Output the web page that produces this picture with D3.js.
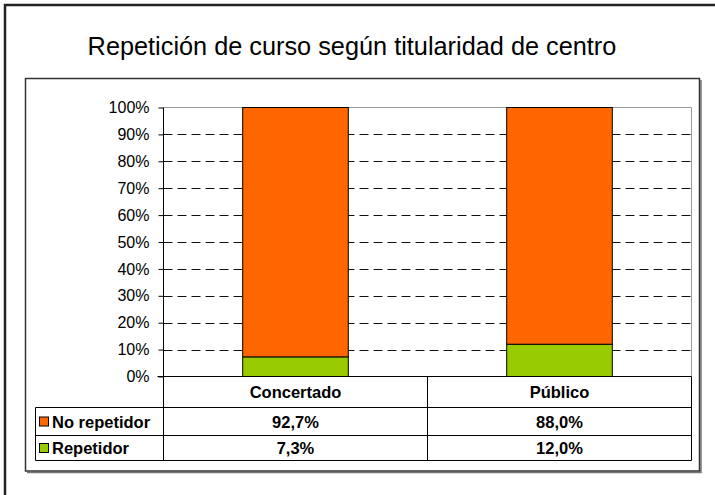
<!DOCTYPE html>
<html>
<head>
<meta charset="utf-8">
<script src="https://cdn.jsdelivr.net/npm/d3@7"></script>
<style>
  body { margin: 0; background: #fff; }
  svg { display: block; font-family: "Liberation Sans", Arial, sans-serif; }
</style>
</head>
<body>
<svg id="chart" width="715" height="495"></svg>
<script>
// Chart data
const categories = ["Concertado", "Público"];
const seriesNames = ["No repetidor", "Repetidor"];
const noRepetidor = [92.7, 88.0];
const repetidor = [7.3, 12.0];
const yTicks = [0, 10, 20, 30, 40, 50, 60, 70, 80, 90, 100];
const titleText = "Repetición de curso según titularidad de centro";

const colors = { "No repetidor": "#ff6600", "Repetidor": "#99cc00" };

// Layout
const plot = { left: 163.5, right: 691.5, top: 107.5, bottom: 376.5 };
const tableLeft = 35.5;
const rowLines = [376.5, 407.5, 435.5, 460.5];

const svg = d3.select("#chart");

// outer frame (runs off the picture on right/bottom)
svg.append("rect")
  .attr("x", 5).attr("y", 5).attr("width", 740).attr("height", 520)
  .attr("fill", "none").attr("stroke", "#222").attr("stroke-width", 2.5);

// title
svg.append("text")
  .attr("x", 352).attr("y", 55)
  .attr("text-anchor", "middle")
  .style("font-size", "25.3px")
  .text(titleText);

// chart area frame + small shadow
svg.append("path")
  .attr("d", "M27,472.5H701V80")
  .attr("fill", "none").attr("stroke", "#777").attr("stroke-width", 1.5);
svg.append("rect")
  .attr("x", 25.5).attr("y", 78.5).attr("width", 674).attr("height", 392.5)
  .attr("fill", "none").attr("stroke", "#333").attr("stroke-width", 1.5);

// Scales
const x = d3.scaleBand().domain(categories).range([plot.left, plot.right]);
const y = d3.scaleLinear().domain([0, 100]).range([plot.bottom, plot.top]);

// dashed gridlines
svg.append("g")
  .selectAll("line")
  .data(yTicks.filter(t => t > 0 && t < 100))
  .enter().append("line")
  .attr("x1", plot.left).attr("x2", plot.right)
  .attr("y1", d => Math.round(y(d)) + 0.5).attr("y2", d => Math.round(y(d)) + 0.5)
  .attr("stroke", "#111").attr("stroke-dasharray", "9,5");

// plot area border top/right (gray)
svg.append("path")
  .attr("d", `M${plot.left},${plot.top}H${plot.right}V${plot.bottom}`)
  .attr("fill", "none").attr("stroke", "#999");

// stacked bars
const stackData = categories.map((c, i) => ({ cat: c, "Repetidor": repetidor[i], "No repetidor": noRepetidor[i] }));
const stack = d3.stack().keys(["Repetidor", "No repetidor"]);
const layers = stack(stackData);
const barW = x.bandwidth() * 0.4;

svg.append("g")
  .selectAll("g")
  .data(layers)
  .enter().append("g")
  .attr("fill", d => colors[d.key])
  .selectAll("rect")
  .data(d => d)
  .enter().append("rect")
  .attr("x", d => x(d.data.cat) + (x.bandwidth() - barW) / 2)
  .attr("y", d => y(d[1]))
  .attr("width", barW)
  .attr("height", d => y(d[0]) - y(d[1]))
  .attr("stroke", "#000").attr("stroke-width", 1);

// y axis
const yAxis = d3.axisLeft(y)
  .tickValues(yTicks)
  .tickSize(5)
  .tickPadding(9)
  .tickFormat(d => d + "%");

const yg = svg.append("g")
  .attr("transform", `translate(${plot.left},0)`)
  .call(yAxis);
yg.select(".domain").remove();
yg.selectAll(".tick line").attr("stroke", "#000");
yg.selectAll(".tick text")
  .attr("fill", "#000")
  .style("font-size", "16px")
  .style("font-family", "'Liberation Sans', Arial, sans-serif");

// axis line, continues down as table column separator
svg.append("line")
  .attr("x1", plot.left).attr("x2", plot.left)
  .attr("y1", plot.top).attr("y2", rowLines[3])
  .attr("stroke", "#000");

// data table lines
svg.append("line")
  .attr("x1", plot.left - 6).attr("x2", plot.right)
  .attr("y1", rowLines[0]).attr("y2", rowLines[0])
  .attr("stroke", "#000");
rowLines.slice(1).forEach(ry => {
  svg.append("line")
    .attr("x1", tableLeft).attr("x2", plot.right)
    .attr("y1", ry).attr("y2", ry)
    .attr("stroke", "#000");
});
svg.append("line")
  .attr("x1", tableLeft).attr("x2", tableLeft)
  .attr("y1", rowLines[1]).attr("y2", rowLines[3])
  .attr("stroke", "#000");
svg.append("line")
  .attr("x1", plot.right).attr("x2", plot.right)
  .attr("y1", rowLines[0]).attr("y2", rowLines[3])
  .attr("stroke", "#000");
svg.append("line")
  .attr("x1", x(categories[1])).attr("x2", x(categories[1]))
  .attr("y1", rowLines[0]).attr("y2", rowLines[3])
  .attr("stroke", "#000");

// header labels
svg.append("g")
  .selectAll("text")
  .data(categories)
  .enter().append("text")
  .attr("x", d => x(d) + x.bandwidth() / 2)
  .attr("y", (rowLines[0] + rowLines[1]) / 2 + 6)
  .attr("text-anchor", "middle")
  .style("font-size", "16.5px").style("font-weight", "bold")
  .text(d => d);

// value rows
const locale = d3.formatLocale({ decimal: ",", thousands: ".", grouping: [3], currency: ["", "€"] });
const fmt = locale.format(".1f");
const rows = [
  { name: seriesNames[0], values: noRepetidor },
  { name: seriesNames[1], values: repetidor }
];

rows.forEach((r, ri) => {
  const cy = (rowLines[ri + 1] + rowLines[ri + 2]) / 2;
  svg.append("rect")
    .attr("x", 39.5).attr("y", cy - 4.5)
    .attr("width", 9).attr("height", 9)
    .attr("fill", colors[r.name]).attr("stroke", "#000");
  svg.append("text")
    .attr("x", 52).attr("y", cy + 6)
    .style("font-size", "16.5px").style("font-weight", "bold")
    .text(r.name);
  categories.forEach((c, ci) => {
    svg.append("text")
      .attr("x", x(c) + x.bandwidth() / 2)
      .attr("y", cy + 6)
      .attr("text-anchor", "middle")
      .style("font-size", "16.5px").style("font-weight", "bold")
      .text(fmt(r.values[ci]) + "%");
  });
});
</script>
</body>
</html>
